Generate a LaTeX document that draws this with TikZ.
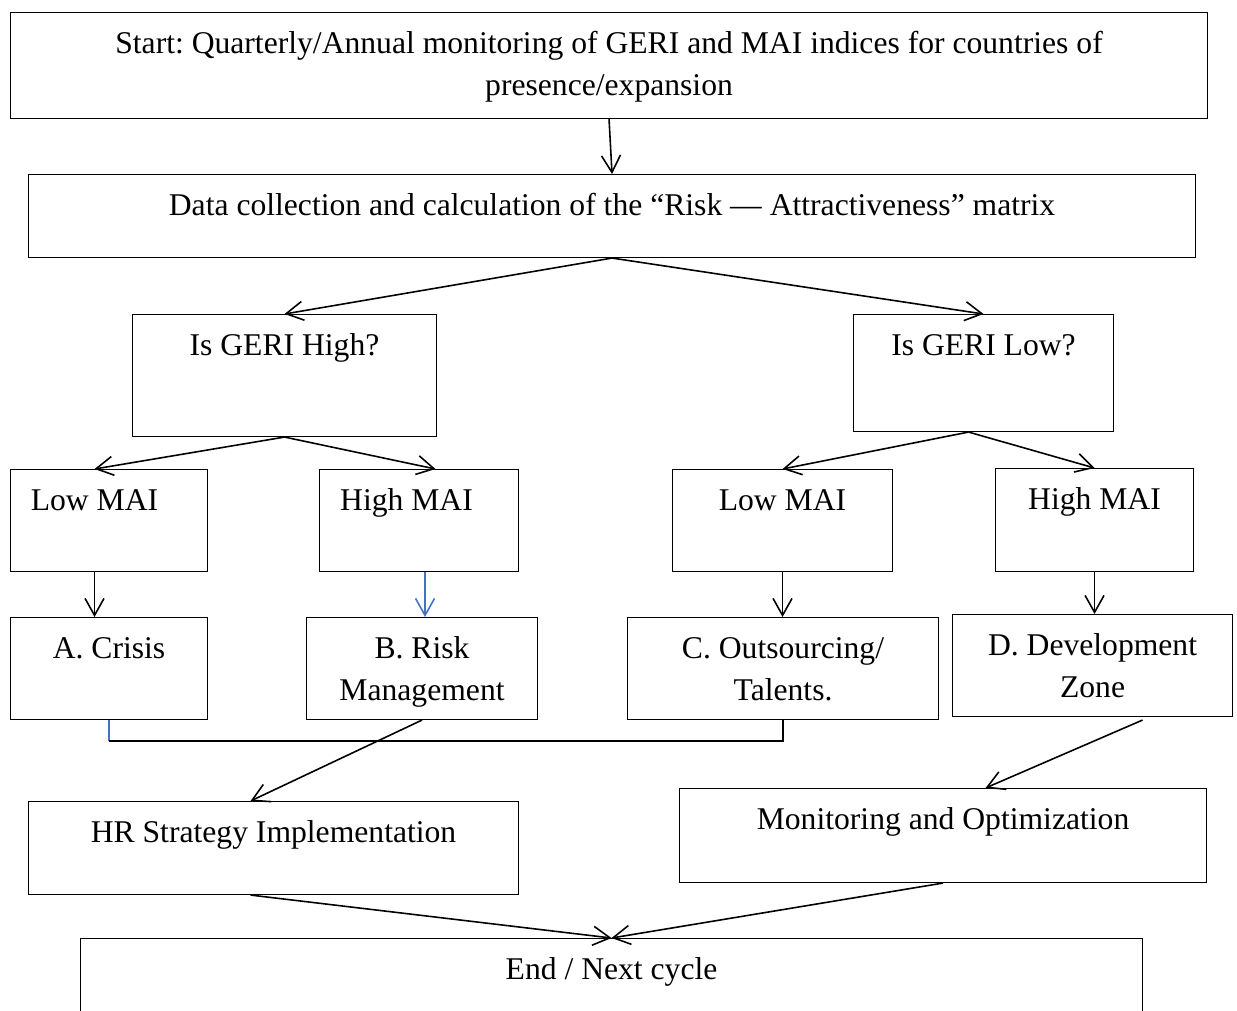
\documentclass[tikz,border=0pt]{standalone}
\usepackage{fontspec}
\setmainfont{Liberation Serif}
\usepackage{tikz}
\usetikzlibrary{arrows.meta}
\definecolor{wordblue}{RGB}{68,114,196}
\tikzset{
	box/.style 2 args={draw, line width=0.6pt, anchor=north west, inner sep=0pt, text width=#1, text height=8.2mm, text depth=#2, align=flush center},
	arr/.style={line width=0.9pt, -{Straight Barb[length=3.4mm,width=3.8mm]}},
	lnk/.style={line width=0.9pt}
}
\frenchspacing

\begin{document}
\begin{tikzpicture}[x=0.2mm, y=-0.2mm, font=\fontsize{18}{24}\selectfont]
			%%%%% START %%%%%
			\useasboundingbox (0,0) rectangle (1237,1010);
			
			\node[box={23.94cm}{1.30cm}] (start) at (10,12) {Start: Quarterly/Annual monitoring of GERI and MAI indices for countries of\\presence/expansion};
			\node[box={23.34cm}{0.84cm}] (data) at (28,174) {Data collection and calculation of the “Risk — Attractiveness” matrix};
			
			\node[box={6.08cm}{1.62cm}] (geriH) at (132,314) {Is GERI High?};
			\node[box={5.20cm}{1.52cm}] (geriL) at (853,314) {Is GERI Low?};
			
			\node[box={3.94cm}{1.22cm}] (lowA) at (10,469) {Low MAI\makebox[5.8mm]{}};
			\node[box={3.98cm}{1.22cm}] (highA) at (319,469) {High MAI\makebox[5mm]{}};
			\node[box={4.40cm}{1.22cm}] (lowB) at (672,469) {Low MAI};
			\node[box={3.96cm}{1.24cm}] (highB) at (995,468) {High MAI};
			
			\node[box={3.94cm}{1.22cm}] (crisis) at (10,617) {A. Crisis};
			\node[box={4.62cm}{1.22cm}] (riskm) at (306,617) {B. Risk\\Management};
			\node[box={6.22cm}{1.22cm}] (outs) at (627,617) {C. Outsourcing/\\Talents.};
			\node[box={5.60cm}{1.22cm}] (devz) at (952,614) {D. Development\\Zone};
			
			\node[box={9.80cm}{1.04cm}] (hrs) at (28,801) {HR Strategy Implementation};
			\node[box={10.54cm}{1.06cm}] (monopt) at (679,788) {Monitoring and Optimization};
			\node[box={21.24cm}{1.40cm}] (endc) at (80,938) {End / Next cycle};
			
			% arrows
			\draw[arr] (start.south) -- (data.north);
			\draw[arr] (data.south) -- (geriH.north);
			\draw[arr] (data.south) -- (geriL.north);
			
			\draw[arr] (geriH.south) -- ([xshift=-2.9mm]lowA.north);
			\draw[arr] (geriH.south) -- ([xshift=3.3mm]highA.north);
			\draw[arr] ([xshift=-3mm]geriL.south) -- (lowB.north);
			\draw[arr] ([xshift=-3mm]geriL.south) -- (highB.north);
			
			\draw[arr] ([xshift=-2.9mm]lowA.south) -- ([xshift=-2.9mm]crisis.north);
			\draw[arr, wordblue] ([xshift=1.2mm]highA.south) -- ([xshift=1.2mm]highA.south |- riskm.north);
			\draw[arr] (lowB.south) -- (lowB.south |- outs.north);
			\draw[arr] (highB.south) -- (highB.south |- devz.north);
			
			\draw[lnk, wordblue] (crisis.south) -- ([yshift=-4.2mm]crisis.south);
			\draw[lnk] ([yshift=-4.2mm]crisis.south) -| (outs.south);
			
			\draw[arr] (riskm.south) -- ([xshift=-4.6mm]hrs.north);
			\draw[arr] ([xshift=10mm, yshift=-0.6mm]devz.south) -- ([xshift=8.5mm]monopt.north);
			\draw[arr] ([xshift=-4.6mm]hrs.south) -- (endc.north);
			\draw[arr] (monopt.south) -- (endc.north);
			
			%%%%% END %%%%%
\end{tikzpicture}
\end{document}
